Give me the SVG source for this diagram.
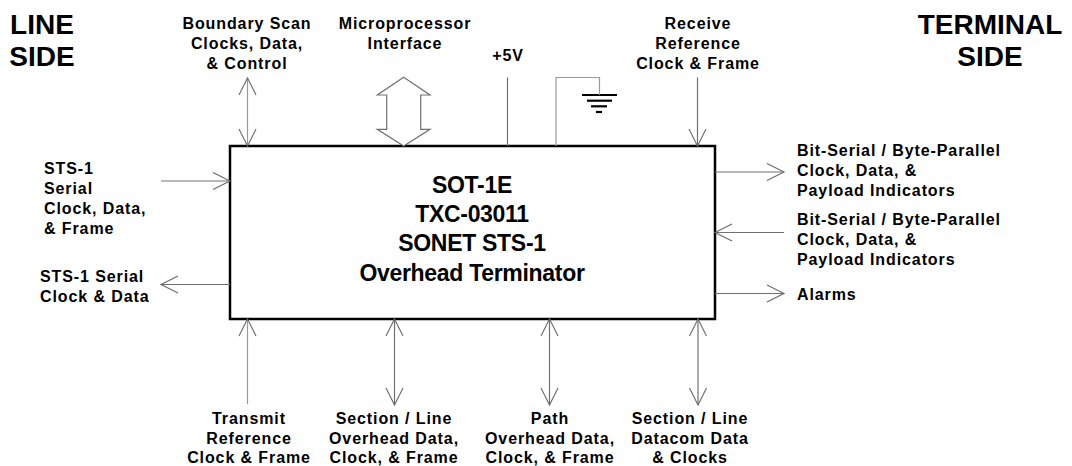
<svg xmlns="http://www.w3.org/2000/svg" width="1072" height="466" viewBox="0 0 1072 466">
<style>
.t{font-family:"Liberation Sans",Arial,Helvetica,sans-serif;font-weight:bold;font-size:16px;letter-spacing:0.9px;fill:#000}
.m{text-anchor:middle}
.big{font-family:"Liberation Sans",Arial,Helvetica,sans-serif;font-weight:bold;font-size:28px;fill:#000;text-anchor:middle}
.core{font-family:"Liberation Sans",Arial,Helvetica,sans-serif;font-weight:bold;font-size:23px;letter-spacing:-0.3px;fill:#000;text-anchor:middle}
.w{stroke:#707070;stroke-width:1.2;fill:none}
.wl{stroke:#9a9a9a;stroke-width:1.2;fill:none}
.a1{marker-end:url(#ah)}
.a2{marker-start:url(#ah);marker-end:url(#ah)}
.gnd{stroke:#000;stroke-width:2.2}
</style>
<defs>
<marker id="ah" viewBox="-1 -10 20 20" refX="17" refY="0" markerWidth="20" markerHeight="20" markerUnits="userSpaceOnUse" orient="auto-start-reverse">
<path d="M0,-8.5 L17,0 L0,8.5" fill="none" stroke="#6a6a6a" stroke-width="1.1"/>
</marker>
</defs>
<rect width="1072" height="466" fill="#fff"/>

<g id="line-side"><text class="big" x="42" y="34">LINE</text><text class="big" x="42" y="66">SIDE</text></g>
<g id="terminal-side"><text class="big" x="990" y="34">TERMINAL</text><text class="big" x="990" y="66">SIDE</text></g>

<g id="sot1e">
<rect x="230" y="146" width="485" height="173" fill="#fff" stroke="#000" stroke-width="2.5"/>
<text class="core" x="472" y="193">SOT-1E</text>
<text class="core" x="472" y="222">TXC-03011</text>
<text class="core" x="472" y="251">SONET STS-1</text>
<text class="core" x="472" y="281">Overhead Terminator</text>
</g>

<g id="lbl-boundary-scan"><text class="t m" x="247" y="29">Boundary Scan</text><text class="t m" x="247" y="49">Clocks, Data,</text><text class="t m" x="247" y="69">&amp; Control</text></g>
<g id="lbl-microprocessor"><text class="t m" x="405" y="29">Microprocessor</text><text class="t m" x="405" y="49">Interface</text></g>
<g id="lbl-5v"><text class="t m" x="508" y="61">+5V</text></g>
<g id="lbl-receive-ref"><text class="t m" x="698" y="29">Receive</text><text class="t m" x="698" y="49">Reference</text><text class="t m" x="698" y="69">Clock &amp; Frame</text></g>

<g id="lbl-sts1-in"><text class="t" x="44" y="174">STS-1</text><text class="t" x="44" y="194">Serial</text><text class="t" x="44" y="214">Clock, Data,</text><text class="t" x="44" y="234">&amp; Frame</text></g>
<g id="lbl-sts1-out"><text class="t" x="40" y="282">STS-1 Serial</text><text class="t" x="40" y="302">Clock &amp; Data</text></g>

<g id="lbl-bsbp-out"><text class="t" x="797" y="156">Bit-Serial / Byte-Parallel</text><text class="t" x="797" y="176">Clock, Data, &amp;</text><text class="t" x="797" y="196">Payload Indicators</text></g>
<g id="lbl-bsbp-in"><text class="t" x="797" y="225">Bit-Serial / Byte-Parallel</text><text class="t" x="797" y="245">Clock, Data, &amp;</text><text class="t" x="797" y="265">Payload Indicators</text></g>
<g id="lbl-alarms"><text class="t" x="797" y="300">Alarms</text></g>

<g id="lbl-transmit-ref"><text class="t m" x="249" y="424">Transmit</text><text class="t m" x="249" y="444">Reference</text><text class="t m" x="249" y="463">Clock &amp; Frame</text></g>
<g id="lbl-section-line-oh"><text class="t m" x="394" y="424">Section / Line</text><text class="t m" x="394" y="444">Overhead Data,</text><text class="t m" x="394" y="463">Clock, &amp; Frame</text></g>
<g id="lbl-path-oh"><text class="t m" x="550" y="424">Path</text><text class="t m" x="550" y="444">Overhead Data,</text><text class="t m" x="550" y="463">Clock, &amp; Frame</text></g>
<g id="lbl-datacom"><text class="t m" x="690" y="424">Section / Line</text><text class="t m" x="690" y="444">Datacom Data</text><text class="t m" x="690" y="463">&amp; Clocks</text></g>

<g id="ground">
<line class="gnd" x1="582" y1="95" x2="617" y2="95"/>
<line class="gnd" x1="587" y1="100.7" x2="612" y2="100.7"/>
<line class="gnd" x1="591" y1="106.3" x2="607" y2="106.3"/>
<line class="gnd" x1="596" y1="112" x2="602" y2="112"/>
</g>

<g id="connectors">
<line class="wl a2" x1="247.5" y1="78" x2="247.5" y2="146"/>
<polygon points="403.7,77.3 430,95 420.7,95 420.7,129.3 430,129.3 403.7,146 377.3,129.3 386.7,129.3 386.7,95 377.3,95" fill="#fff" stroke="#707070" stroke-width="1.2"/>
<line class="w" x1="507.5" y1="77.5" x2="507.5" y2="146"/>
<polyline class="wl" points="556,146 556,77.5 599.5,77.5 599.5,95"/>
<line class="w a1" x1="697.5" y1="77.5" x2="697.5" y2="146"/>
<line class="w a1" x1="161" y1="181" x2="230" y2="181"/>
<line class="w a1" x1="230" y1="284.5" x2="161" y2="284.5"/>
<line class="w a1" x1="715" y1="172" x2="784" y2="172"/>
<line class="w a1" x1="784" y1="232.5" x2="715" y2="232.5"/>
<line class="w a1" x1="715" y1="293.5" x2="784" y2="293.5"/>
<line class="wl a1" x1="247.5" y1="404" x2="247.5" y2="319"/>
<line class="w a2" x1="394.5" y1="319" x2="394.5" y2="405"/>
<line class="w a2" x1="549.5" y1="319" x2="549.5" y2="405"/>
<line class="w a2" x1="698" y1="319" x2="698" y2="405"/>
</g>
</svg>
